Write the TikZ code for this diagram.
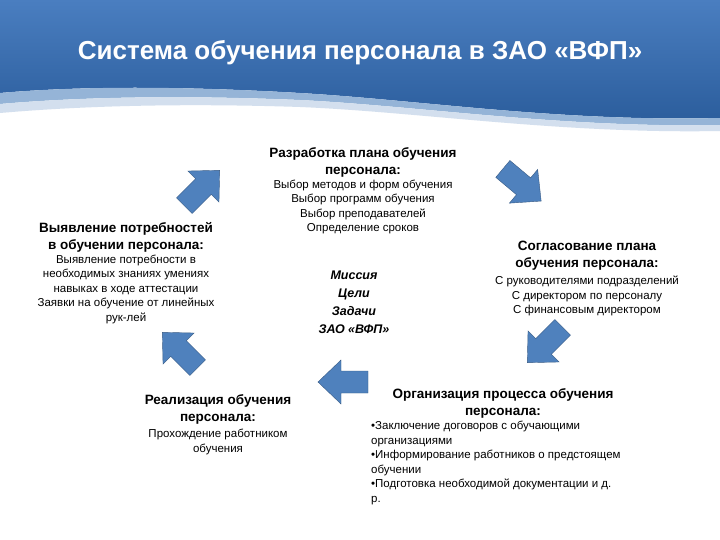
\documentclass[tikz,border=0pt]{standalone}
\usepackage{fontspec}
\setmainfont{Liberation Sans}
\begin{document}
\begin{tikzpicture}[x=1pt,y=-1pt,
  hd/.style={font=\bfseries\fontsize{13.5}{17}\selectfont,align=center},
  bd/.style={font=\fontsize{11.5}{14.5}\selectfont,align=center},
  barrow/.pic={\fill[fill=arrowblue,draw=arrowblue!70!black,line width=0.4pt]
     (-25,-11)--(2,-11)--(2,-22)--(25,0)--(2,22)--(2,11)--(-25,11)--cycle;}]
\definecolor{arrowblue}{HTML}{4F81BD}
\definecolor{topblue}{HTML}{4A7EC0}
\definecolor{botblue}{HTML}{2B5D9C}
\useasboundingbox (0,0) rectangle (720,540);
\fill[white] (0,0) rectangle (720,540);
% header
\shade[top color=topblue,bottom color=botblue]
 (0,0)--(720,0)--(720,118) .. controls (560,122) and (420,100) .. (300,93) .. controls (180,86) and (80,86) .. (0,93)--cycle;
\fill[arrowblue!60!white] (0,93) .. controls (80,86) and (180,86) .. (300,93) .. controls (420,100) and (560,122) .. (720,118)
 -- (720,125) .. controls (560,128) and (420,106) .. (300,100) .. controls (180,95) and (80,97) .. (0,104)--cycle;
\fill[arrowblue!25!white] (0,104) .. controls (80,97) and (180,95) .. (300,100) .. controls (420,106) and (560,128) .. (720,125)
 -- (720,131) .. controls (560,134) and (420,112) .. (300,107) .. controls (180,103) and (80,106) .. (0,113)--cycle;
\node[text=white,font=\bfseries\fontsize{26}{30}\selectfont] (title) at (360,53) {Система обучения персонала в ЗАО «ВФП»};
% arrows
\pic[rotate=45] at (202,188) {barrow};
\pic[rotate=-40] at (522,185) {barrow};
\pic[rotate=-135] at (545,345) {barrow};
\pic[rotate=180] at (343,382) {barrow};
\pic[rotate=135] at (180,350) {barrow};
% texts
\node[hd] (t1) at (363,162) {Разработка плана обучения\\персонала:};
\node[bd] (b1) at (363,207) {Выбор методов и форм обучения\\Выбор программ обучения\\Выбор преподавателей\\Определение сроков};
\node[hd] (t2) at (126,237) {Выявление потребностей\\в обучении персонала:};
\node[bd] (b2) at (126,289) {Выявление потребности в\\необходимых знаниях умениях\\навыках в ходе аттестации\\Заявки на обучение от линейных\\рук-лей};
\node[hd] (t3) at (587,256) {Согласование плана\\обучения персонала:};
\node[bd] (b3) at (587,296) {С руководителями подразделений\\С директором по персоналу\\С финансовым директором};
\node[font=\bfseries\itshape\fontsize{12.5}{18}\selectfont,align=center] (c) at (354,302) {Миссия\\Цели\\Задачи\\ЗАО «ВФП»};
\node[hd] (t4) at (218,409) {Реализация обучения\\персонала:};
\node[bd] (b4) at (218,442) {Прохождение работником\\обучения};
\node[hd] (t5) at (503,403) {Организация процесса обучения\\персонала:};
\node[bd,align=left,anchor=north west,inner sep=0pt] (b5) at (371,421) {•Заключение договоров с обучающими\\организациями\\•Информирование работников о предстоящем\\обучении\\•Подготовка необходимой документации и д.\\р.};
\end{tikzpicture}
\end{document}
